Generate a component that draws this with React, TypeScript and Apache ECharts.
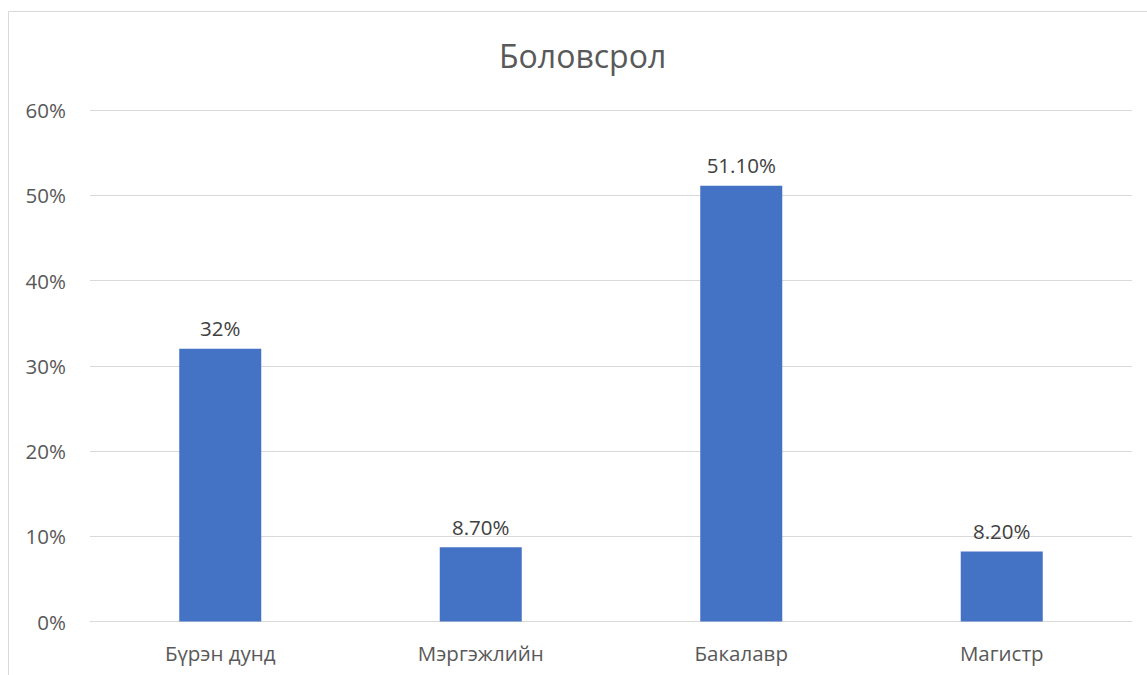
import React, { useEffect, useRef } from "react";
import * as echarts from "echarts";

const categories = ["Бүрэн дунд", "Мэргэжлийн", "Бакалавр", "Магистр"];
const values = [32, 8.7, 51.1, 8.2];
const valueLabels = ["32%", "8.70%", "51.10%", "8.20%"];
const yTicks = [0, 10, 20, 30, 40, 50, 60];

export default function App() {
  const ref = useRef<HTMLDivElement>(null);
  useEffect(() => {
    const chart = echarts.init(ref.current!, null, { renderer: "svg" });
    const font = "'Open Sans', 'Noto Sans', sans-serif";
    chart.setOption({
      animation: false,
      backgroundColor: "#ffffff",
      title: {
        text: "Боловсрол",
        left: 494,
        top: 34,
        textStyle: { fontFamily: font, fontSize: 32, fontWeight: "normal", color: "#595959" },
      },
      graphic: [
        {
          type: "rect",
          shape: { x: 8.5, y: 11.5, width: 1300, height: 800 },
          style: { fill: "none", stroke: "#d9d9d9", lineWidth: 1 },
          silent: true,
        },
      ],
      grid: { left: 90, right: 15, top: 110, bottom: 53.5 },
      xAxis: {
        type: "category",
        data: categories,
        axisLine: { lineStyle: { color: "#d9d9d9" } },
        axisTick: { show: false },
        axisLabel: { color: "#595959", fontFamily: font, fontSize: 20.5, margin: 21 },
      },
      yAxis: {
        type: "value",
        min: yTicks[0],
        max: yTicks[yTicks.length - 1],
        interval: 10,
        axisLine: { show: false },
        axisTick: { show: false },
        splitLine: { lineStyle: { color: "#d9d9d9", width: 1 } },
        axisLabel: {
          color: "#595959",
          fontFamily: font,
          fontSize: 20.5,
          margin: 24,
          formatter: (v: number) => `${v}%`,
        },
      },
      series: [
        {
          type: "bar",
          data: values,
          barWidth: 82,
          itemStyle: { color: "#4472C4" },
          label: {
            show: true,
            position: "top",
            distance: 10,
            color: "#404040",
            fontFamily: font,
            fontSize: 20.5,
            formatter: (p: any) => valueLabels[p.dataIndex],
          },
        },
      ],
    });
    return () => chart.dispose();
  }, []);
  return (
    <div
      ref={ref}
      style={{ position: "absolute", left: 0, top: 0, width: 1147, height: 675 }}
    />
  );
}
